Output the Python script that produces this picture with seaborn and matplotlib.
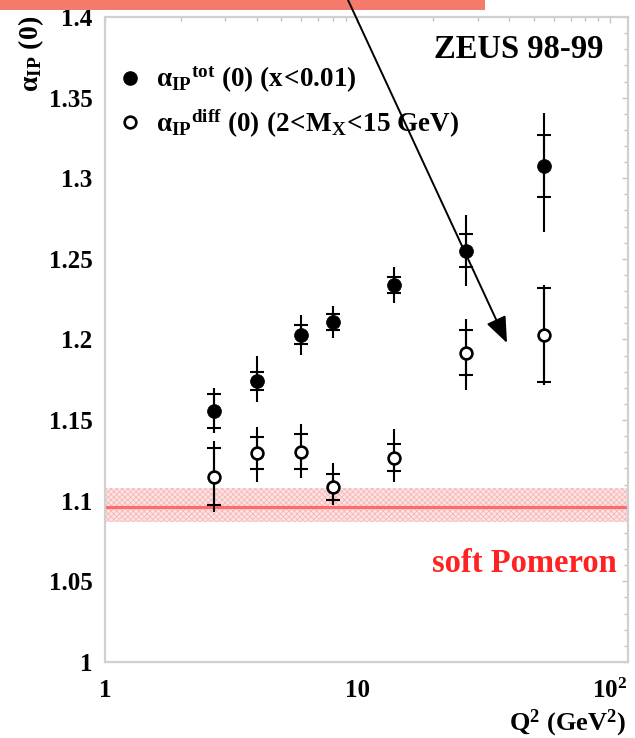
import numpy as np
import pandas as pd
import matplotlib
matplotlib.use("Agg")
import matplotlib.pyplot as plt
import seaborn as sns
from matplotlib.patches import Rectangle, FancyArrowPatch
from matplotlib.lines import Line2D
from matplotlib.ticker import LogLocator, NullFormatter, MultipleLocator

# ---------------- data ----------------
q2 = [2.7, 4.0, 6.0, 8.0, 14.0, 27.0, 55.0]
alpha_tot = [1.1558, 1.1744, 1.2030, 1.2110, 1.2338, 1.2551, 1.3076]
alpha_tot_stat = [0.0105, 0.0055, 0.0060, 0.0050, 0.0050, 0.0104, 0.0195]
alpha_tot_err_up = [0.0140, 0.0155, 0.0125, 0.0100, 0.0110, 0.0220, 0.0330]
alpha_tot_err_dn = [0.0140, 0.0130, 0.0125, 0.0100, 0.0110, 0.0220, 0.0410]

alpha_diff = [1.1149, 1.1294, 1.1304, 1.1083, 1.1267, 1.1918, 1.2028]
alpha_diff_stat = [0.0178, 0.0100, 0.0108, 0.0080, 0.0084, 0.0140, 0.0290]
alpha_diff_err_up = [0.0220, 0.0165, 0.0170, 0.0150, 0.0180, 0.0210, 0.0310]
alpha_diff_err_dn = [0.0220, 0.0180, 0.0165, 0.0110, 0.0150, 0.0230, 0.0310]

soft_pomeron = 1.096
soft_pomeron_lo = 1.087
soft_pomeron_hi = 1.108

x_ticks = [1, 10, 100]
x_ticklabels = ["1", "10", r"$10^{2}$"]
y_ticks = [1.0, 1.05, 1.1, 1.15, 1.2, 1.25, 1.3, 1.35, 1.4]
y_ticklabels = ["1", "1.05", "1.1", "1.15", "1.2", "1.25", "1.3", "1.35", "1.4"]

label_tot = r"$\alpha_{IP}{}^{tot}\ (0)\ (x\!<\!0.01)$"
label_diff = r"$\alpha_{IP}{}^{diff}\ (0)\ (2\!<\!M_{X}\!<\!15\ GeV)$"

df_tot = pd.DataFrame({"q2": q2, "alpha": alpha_tot})
df_diff = pd.DataFrame({"q2": q2, "alpha": alpha_diff})

# ---------------- style ----------------
sns.set_theme(style="white")
plt.rcParams["font.family"] = ["Liberation Serif", "DejaVu Serif"]
plt.rcParams["font.weight"] = "bold"
plt.rcParams["mathtext.fontset"] = "custom"
plt.rcParams["mathtext.rm"] = "Liberation Serif:bold"
plt.rcParams["mathtext.it"] = "Liberation Serif:italic:bold"
plt.rcParams["mathtext.bf"] = "Liberation Serif:bold"
plt.rcParams["mathtext.default"] = "rm"
plt.rcParams["hatch.linewidth"] = 0.6
for key in ["text.color", "axes.labelcolor", "xtick.labelcolor", "ytick.labelcolor"]:
    plt.rcParams[key] = "black"

W, H = 635, 738
fig = plt.figure(figsize=(W / 100, H / 100), dpi=100)
fig.patch.set_facecolor("white")
ax = fig.add_axes([105 / W, 76 / H, 523 / W, 645 / H])
ax.set_xscale("log")
ax.set_xlim(1, 118)
ax.set_ylim(1.0, 1.4)

# soft pomeron band + line
ax.axhspan(soft_pomeron_lo, soft_pomeron_hi, facecolor="#fde4e4",
           edgecolor="#f7b7b7", hatch="xxxxxx", lw=0, zorder=1)
ax.axhline(soft_pomeron, color="#ff6a6a", lw=2.3, zorder=2)

# error bars (total: plain line, stat: with crossbars)
ax.errorbar(q2, alpha_tot, yerr=[alpha_tot_err_dn, alpha_tot_err_up], fmt="none",
            ecolor="black", elinewidth=1.5, capsize=0, zorder=3)
ax.errorbar(q2, alpha_tot, yerr=alpha_tot_stat, fmt="none",
            ecolor="black", elinewidth=1.5, capsize=4.8, capthick=1.5, zorder=3)
ax.errorbar(q2, alpha_diff, yerr=[alpha_diff_err_dn, alpha_diff_err_up], fmt="none",
            ecolor="black", elinewidth=1.5, capsize=0, zorder=3)
ax.errorbar(q2, alpha_diff, yerr=alpha_diff_stat, fmt="none",
            ecolor="black", elinewidth=1.5, capsize=4.8, capthick=1.5, zorder=3)

# markers
sns.scatterplot(data=df_tot, x="q2", y="alpha", ax=ax, color="black",
                edgecolor="black", s=100, linewidth=0.5, zorder=5, legend=False)
sns.scatterplot(data=df_diff, x="q2", y="alpha", ax=ax, facecolor="white",
                edgecolor="black", s=72, linewidth=1.9, zorder=5, legend=False)

# axes cosmetics
ax.set_xlabel("")
ax.set_ylabel("")
ax.set_xticks(x_ticks)
ax.set_xticklabels(x_ticklabels)
ax.xaxis.set_minor_locator(LogLocator(base=10, subs=np.arange(2, 10)))
ax.xaxis.set_minor_formatter(NullFormatter())
ax.set_yticks(y_ticks)
ax.set_yticklabels(y_ticklabels)
ax.yaxis.set_minor_locator(MultipleLocator(0.01))
ax.tick_params(which="both", direction="in", top=True, right=True,
               color="#c4c4c4", width=1.0, labelcolor="black")
ax.tick_params(which="major", length=4.5, labelsize=18)
ax.tick_params(which="minor", length=2.6)
ax.tick_params(axis="x", which="major", pad=12)
ax.tick_params(axis="y", which="major", pad=9)
for lab in ax.get_xticklabels() + ax.get_yticklabels():
    lab.set_fontweight("bold")
    lab.set_color("black")
for sp in ax.spines.values():
    sp.set_color("#d0d0d0")
    sp.set_linewidth(1.6)

# legend
handles = [
    Line2D([], [], marker="o", ls="none", color="black", markersize=9.5),
    Line2D([], [], marker="o", ls="none", markerfacecolor="white",
           markeredgecolor="black", markeredgewidth=1.9, markersize=8.4),
]
ax.legend(handles, [label_tot, label_diff], loc="upper left",
          bbox_to_anchor=(0.025, 0.925), frameon=False, fontsize=19.5,
          handlelength=0.85, handletextpad=0.55, labelspacing=0.45,
          borderaxespad=0, borderpad=0, labelcolor="black")

# texts
ax.text(0.952, 0.9364, "ZEUS 98-99", transform=ax.transAxes, ha="right",
        va="baseline", fontsize=23.5, fontweight="bold", color="black")
ax.text(0.979, 0.1395, "soft Pomeron", transform=ax.transAxes, ha="right",
        va="baseline", fontsize=23.5, fontweight="bold", color="#ff2222")
fig.text(626 / W, 8 / H, r"$Q^{2}\ (GeV^{2})$", ha="right", va="baseline",
         fontsize=19, color="black")
fig.text(31 / W, 1 - 16 / H, r"$\alpha_{IP}\ (0)$", rotation=90, ha="center",
         va="top", fontsize=20, color="black")

# top decoration bar and arrow
fig.add_artist(Rectangle((0, 1 - 10 / H), 485 / W, 10 / H, transform=fig.transFigure,
                         facecolor="#f47a6b", edgecolor="none", zorder=10))
arrow = FancyArrowPatch(posA=(348 / W, 1.0), posB=(507 / W, 1 - 343 / H),
                        transform=fig.transFigure,
                        arrowstyle="-|>,head_length=0.8,head_width=0.32",
                        mutation_scale=20, color="black", lw=1.4,
                        shrinkA=0, shrinkB=0, zorder=11)
fig.add_artist(arrow)

fig.savefig("out.png", dpi=100, facecolor="white")
